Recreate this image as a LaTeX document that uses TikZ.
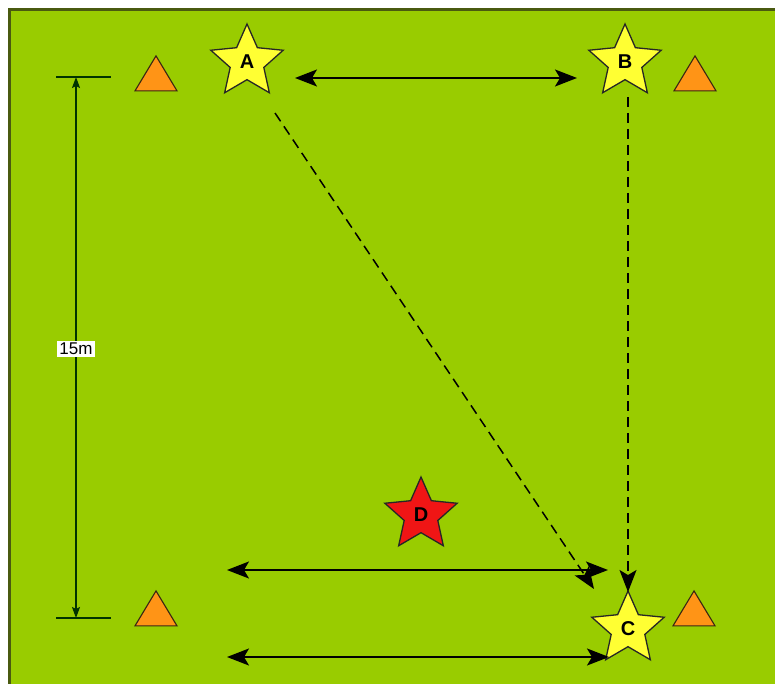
\documentclass[tikz,border=0pt]{standalone}
\usepackage{fontspec}
\setmainfont{Liberation Sans}
\usetikzlibrary{shapes.geometric,arrows.meta}
\definecolor{field}{HTML}{99CC00}
\definecolor{fieldedge}{HTML}{4A5A10}
\definecolor{cone}{HTML}{FF9416}
\definecolor{starY}{HTML}{FFFF33}
\definecolor{starR}{HTML}{F01515}
\tikzset{
  player/.style={star, star points=5, star point ratio=2.15, minimum size=76pt, inner sep=0pt,
    draw=black!85, line width=1.3pt, fill=starY, font=\bfseries\fontsize{20}{20}\selectfont},
  cone/.style={isosceles triangle, isosceles triangle apex angle=62, shape border rotate=90,
    minimum height=35pt, inner sep=0pt, draw=black!70!brown, line width=1.1pt, fill=cone},
  bighead/.tip={Stealth[length=22pt,width=17pt,inset=5pt]},
  run/.style={line width=1.6pt, black, arrows={bighead-bighead}},
  dashrun/.style={line width=1.5pt, black, dash pattern=on 10pt off 6pt, -{bighead}},
  dimline/.style={line width=1.6pt, black!80!green},
}
\begin{document}
\begin{tikzpicture}[x=1pt,y=-1pt]
\useasboundingbox (0,0) rectangle (775,684);
\fill[white] (0,0) rectangle (775,684);
\filldraw[fill=field, draw=fieldedge, line width=3pt] (9,10) rectangle (790,700);
% cones
\node[cone] (t1) at (156,79) {};
\node[cone] (t2) at (695,79) {};
\node[cone] (t3) at (156,614) {};
\node[cone] (t4) at (694,614) {};
% players
\node[player] (A) at (247,62) {A};
\node[player] (B) at (625,62) {B};
\node[player] (C) at (628,629) {C};
\node[player, fill=starR] (D) at (421,515) {D};
% dimension
\coordinate (topL) at (56,77);
\coordinate (topR) at (111,77);
\coordinate (botL) at (56,618);
\coordinate (botR) at (111,618);
\coordinate (topM) at (76,77);
\coordinate (botM) at (76,618);
\draw[dimline] (topL) -- (topR);
\draw[dimline] (botL) -- (botR);
\draw[dimline, arrows={Stealth[length=11pt,width=8pt,inset=2pt]-Stealth[length=11pt,width=8pt,inset=2pt]}] (topM) -- (botM);
\node[fill=white, inner sep=2pt, font=\fontsize{17}{17}\selectfont] (dim) at (76,349) {15m};
% runs
\coordinate (ab1) at (295,78);
\coordinate (ab2) at (577,78);
\draw[run] (ab1) -- (ab2);
\coordinate (h1a) at (227,570);
\coordinate (h1b) at (608,570);
\draw[run] (h1a) -- (h1b);
\coordinate (h2a) at (227,657);
\coordinate (h2b) at (609,657);
\draw[run] (h2a) -- (h2b);
\coordinate (ac1) at (275,113);
\coordinate (ac2) at (594,589);
\draw[dashrun] (ac1) -- (ac2);
\coordinate (bc1) at (628,97);
\coordinate (bc2) at (628,592);
\draw[dashrun] (bc1) -- (bc2);
\end{tikzpicture}
\end{document}
